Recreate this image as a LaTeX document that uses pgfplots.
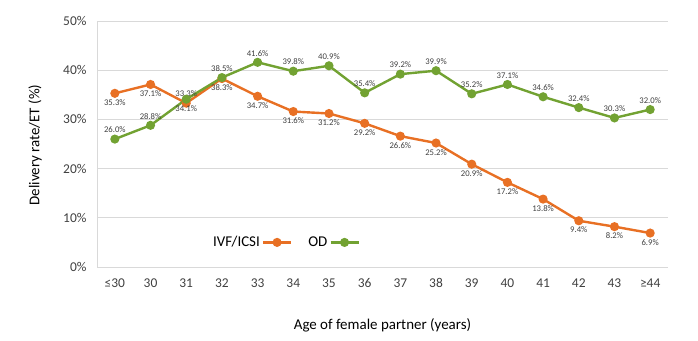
\documentclass[border=0pt]{standalone}
\usepackage{pgfplots}
\pgfplotsset{compat=1.18}
\usepackage{fontspec}
\setmainfont{Carlito}
\definecolor{ivf}{RGB}{232,112,36}
\definecolor{od}{RGB}{114,162,50}
\definecolor{gridc}{RGB}{217,217,217}
\definecolor{labc}{RGB}{64,64,64}
\begin{document}
\begin{tikzpicture}[x=1bp,y=1bp]
\useasboundingbox (0,0) rectangle (698,340);
\begin{axis}[
  at={(97bp,73bp)}, anchor=south west,
  scale only axis, width=571bp, height=246bp,
  xmin=-0.5, xmax=15.5, ymin=0, ymax=50,
  xtick={0,...,15},
  xticklabels={≤30,30,31,32,33,34,35,36,37,38,39,40,41,42,43,≥44},
  ytick={0,10,...,50},
  yticklabel={\pgfmathprintnumber{\tick}\%},
  /pgf/number format/assume math mode=true,
  ymajorgrids, grid style={gridc, line width=0.8bp},
  axis line style={gridc, line width=0.8bp},
  axis x line*=bottom, axis y line*=left,
  major tick length=0pt,
  tick label style={font=\fontsize{13.5}{15}\selectfont, text=labc},
  xticklabel style={yshift=-8bp},
  yticklabel style={xshift=-7bp},
  xlabel={Age of female partner (years)},
  ylabel={Delivery rate/ET (\%)},
  label style={font=\fontsize{15}{18}\selectfont, text=black},
  xlabel style={at={(axis description cs:0.5,-0.236)}, anchor=center},
  ylabel style={at={(axis description cs:-0.1086,0.496)}, anchor=center},
  legend style={at={(axis description cs:0.33,0.10)}, anchor=center,
    draw=none, fill=none, font=\fontsize{15}{18}\selectfont,
    /tikz/every even column/.append style={column sep=14bp}},
  legend columns=2, legend plot pos=right,
  legend image code/.code={
    \draw[mark repeat=2, mark phase=2, #1] plot coordinates {(0bp,0bp) (14bp,0bp) (28bp,0bp)};},
  every axis plot/.append style={line width=2.4bp, mark=*, mark size=3.3bp},
  nodes near coords={\pgfmathprintnumber[fixed,fixed zerofill,precision=1]{\pgfplotspointmeta}\%},
  point meta=y,
  visualization depends on={value \thisrow{pos}\as\lpos},
  every node near coord/.append style={font=\fontsize{8.7}{10}\selectfont, text=labc,
    anchor=\lpos, inner sep=5bp},
  clip=false,
]
\addplot[ivf, mark options={fill=ivf, draw=ivf}] table[x=x,y=y] {
x y pos
0 35.3 north
1 37.1 north
2 33.3 south
3 38.3 north
4 34.7 north
5 31.6 north
6 31.2 north
7 29.2 north
8 26.6 north
9 25.2 north
10 20.9 north
11 17.2 north
12 13.8 north
13 9.4 north
14 8.2 north
15 6.9 north
};
\addlegendentry{IVF/ICSI}
\addplot[od, mark options={fill=od, draw=od}] table[x=x,y=y] {
x y pos
0 26.0 south
1 28.8 south
2 34.1 north
3 38.5 south
4 41.6 south
5 39.8 south
6 40.9 south
7 35.4 south
8 39.2 south
9 39.9 south
10 35.2 south
11 37.1 south
12 34.6 south
13 32.4 south
14 30.3 south
15 32.0 south
};
\addlegendentry{OD}
\end{axis}
\end{tikzpicture}
\end{document}
